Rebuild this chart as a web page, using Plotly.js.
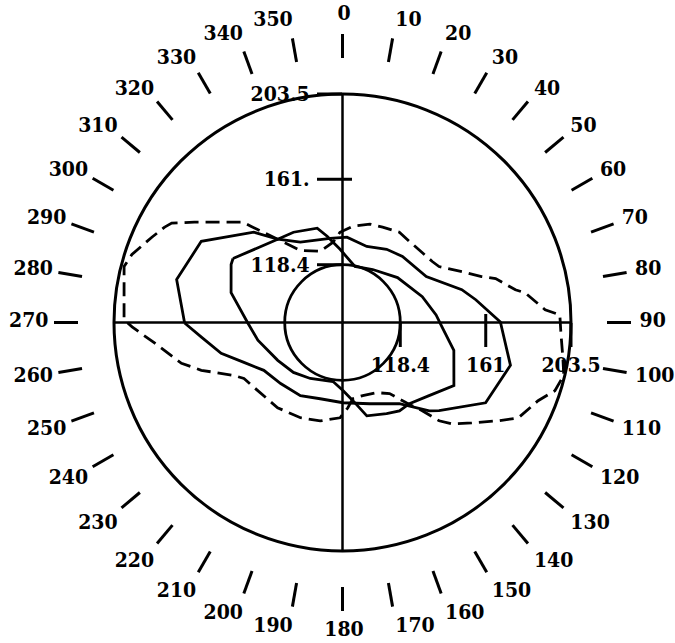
<!DOCTYPE html>
<html>
<head>
<meta charset="utf-8">
<script src="https://cdn.plot.ly/plotly-3.0.1.min.js"></script>
<style>
html,body{margin:0;padding:0;background:#fff;}
#chart{width:675px;height:643px;}
</style>
</head>
<body>
<div id="chart"></div>
<script>
// ---- data ----
const angularTicks = [0,10,20,30,40,50,60,70,80,90,100,110,120,130,140,150,160,170,
                      180,190,200,210,220,230,240,250,260,270,280,290,300,310,320,330,340,350];
const angularLabels = ['0','10','20','30','40','50','60','70','80','90','100','110','120','130','140','150','160','170',
                       '180','190','200','210','220','230','240','250','260','270','280','290','300','310','320','330','340','350'];
const radialTicks = [118.4, 161, 203.5];
const radialLabelsRight = ['118.4', '161', '203.5'];
const radialLabelsTop = ['118.4', '161.', '203.5'];
const innerCircleValue = [118.4];
const crossTicks = [161];
const radialRange = [89.6, 203.5];

const dashedTheta = [298.2,300.2,304.1,315.2,316.4,322.1,329.7,342.6,353.3,358.4,6.2,15.5,22.8,32.2,39.5,55.8,59.9,66.9,71.7,74.0,
  79.3,80.8,86.4,88.0,92.8,99.0,103.4,107.8,111.8,118.5,122.2,127.8,132.8,135.5,137.9,141.5,146.5,154.0,164.5,172.2,
  176.4,181.5,192.8,203.8,217.3,231.2,240.4,244.0,251.3,255.8,263.7,268.8,270.7,284.4,287.9,294.1];
const dashedR = [190.2,188.1,178.8,160.1,155.9,142.2,131.2,126.8,129.9,134.6,137.9,140.5,141.2,142.8,142.0,143.7,145.2,154.3,162.6,169.0,
  177.3,181.9,190.8,198.0,198.6,200.8,203.0,200.8,194.6,189.3,181.5,171.2,164.0,158.3,148.9,140.7,132.1,128.5,127.4,127.9,
  132.2,137.1,139.9,141.5,143.0,143.8,146.1,149.8,163.9,172.4,183.7,194.5,198.5,202.0,199.9,193.7];

const outerSolidTheta = [269.8,284.5,299.9,315.5,322.1,332.3,351.6,3.0,17.7,31.1,42.2,61.3,74.6,80.3,89.8,104.3,119.3,132.4,135.5,145.0,
  161.5,179.6,196.3,209.9,225.4,238.7,248.0,255.8,264.1];
const outerSolidR = [168.3,175.0,170.8,152.7,142.2,134.8,132.0,132.2,129.4,132.2,134.1,137.2,151.3,157.0,168.3,176.0,171.4,154.8,151.3,139.0,
  132.3,129.6,129.2,131.7,132.9,135.5,142.6,152.0,160.3];

const innerSolidTheta = [300.3,322.1,331.5,345.0,349.9,358.1,12.5,29.7,50.8,72.1,85.4,92.6,104.0,119.5,130.2,140.5,147.2,154.2,165.4,172.4,
  179.6,189.1,209.9,224.5,239.7,258.2,269.7,285.0,297.5];
const innerSolidR = [152.8,142.2,140.8,138.3,133.3,126.1,118.2,120.0,125.0,131.4,136.4,139.3,146.8,153.4,146.1,142.0,142.0,140.1,137.7,128.9,
  123.5,119.4,121.8,124.5,127.0,132.7,136.8,147.1,152.2];

// ---- layout geometry ----
const W = 675, H = 643, CX = 342.5, CY = 322.5;
const R_PLOT = 228.5, R_TICK = 264, R_LABEL = 295;
const LABEL_CX = 344, LABEL_CY = 319.5;
function dom(R, cx, cy) {
  cx = (cx === undefined) ? CX : cx;
  cy = (cy === undefined) ? CY : cy;
  return {x: [(cx - R) / W, (cx + R) / W], y: [(H - cy - R) / H, (H - cy + R) / H]};
}
const FONT = {family: '"DejaVu Serif Condensed", "DejaVu Serif", serif', size: 21, color: '#000', weight: 'bold'};
const BLACK = '#000';
const closed = a => a.concat([a[0]]);

function contour(theta, r, dash) {
  return {type: 'scatterpolar', mode: 'lines', subplot: 'polar',
    theta: closed(theta), r: closed(r), hoverinfo: 'skip', showlegend: false,
    line: {color: BLACK, width: 2.8, dash: dash}};
}
function empty(sub) {
  return {type: 'scatterpolar', mode: 'lines', subplot: sub, r: [], theta: [], hoverinfo: 'skip', showlegend: false};
}

const data = [
  contour(dashedTheta, dashedR, '14px,7px'),
  contour(outerSolidTheta, outerSolidR, 'solid'),
  contour(innerSolidTheta, innerSolidR, 'solid'),
  empty('polar2'), empty('polar3'), empty('polar4'), empty('polar5'), empty('polar6'), empty('polar7')
];

const angBase = {rotation: 90, direction: 'clockwise', tickmode: 'array'};
const hiddenAng = Object.assign({}, angBase, {visible: false});
const hiddenRad = {visible: false, range: radialRange};

const layout = {
  width: W, height: H,
  margin: {l: 0, r: 0, t: 0, b: 0},
  paper_bgcolor: '#fff',
  showlegend: false,
  // main plot: outer circle, crosshair, right-hand radial axis
  polar: {
    domain: dom(R_PLOT), bgcolor: 'rgba(0,0,0,0)',
    angularaxis: Object.assign({}, angBase, {
      tickvals: [0, 90, 180, 270], ticks: '', showticklabels: false,
      showline: true, linecolor: BLACK, linewidth: 3,
      showgrid: true, gridcolor: BLACK, gridwidth: 2.5
    }),
    radialaxis: {
      range: radialRange, angle: 0, side: 'clockwise',
      tickmode: 'array', tickvals: radialTicks, ticktext: radialLabelsRight,
      ticks: 'outside', ticklen: 24, tickwidth: 3, tickcolor: BLACK,
      showline: false, showgrid: false, tickfont: FONT
    }
  },
  // upward radial axis with labels on the left
  polar2: {
    domain: dom(R_PLOT), bgcolor: 'rgba(0,0,0,0)',
    angularaxis: hiddenAng,
    radialaxis: {
      range: radialRange, angle: 90, side: 'counterclockwise', tickangle: 90,
      tickmode: 'array', tickvals: radialTicks, ticktext: radialLabelsTop,
      ticks: 'outside', ticklen: 25, tickwidth: 3, tickcolor: BLACK,
      showline: false, showgrid: false, tickfont: FONT
    }
  },
  // inner reference circle
  polar3: {
    domain: dom(R_PLOT), bgcolor: 'rgba(0,0,0,0)',
    angularaxis: hiddenAng,
    radialaxis: {
      range: radialRange, angle: 0, tickmode: 'array', tickvals: innerCircleValue,
      ticks: '', showticklabels: false, showline: false,
      showgrid: true, gridcolor: BLACK, gridwidth: 2.8
    }
  },
  // angular tick marks (detached from the circle)
  polar4: {
    domain: dom(R_TICK), bgcolor: 'rgba(0,0,0,0)',
    angularaxis: Object.assign({}, angBase, {
      tickvals: angularTicks, ticks: 'outside', ticklen: 24, tickwidth: 3, tickcolor: BLACK,
      showticklabels: false, showline: false, showgrid: false
    }),
    radialaxis: hiddenRad
  },
  // angular tick labels
  polar5: {
    domain: dom(R_LABEL, LABEL_CX, LABEL_CY), bgcolor: 'rgba(0,0,0,0)',
    angularaxis: Object.assign({}, angBase, {
      tickvals: angularTicks, ticktext: angularLabels, ticks: '',
      showticklabels: true, tickfont: FONT, showline: false, showgrid: false
    }),
    radialaxis: hiddenRad
  },
  // short crossing parts of the 161 ticks
  polar6: {
    domain: dom(R_PLOT), bgcolor: 'rgba(0,0,0,0)',
    angularaxis: hiddenAng,
    radialaxis: {
      range: radialRange, angle: 0, side: 'clockwise', tickmode: 'array', tickvals: crossTicks,
      ticks: 'inside', ticklen: 8, tickwidth: 3, tickcolor: BLACK,
      showticklabels: false, showline: false, showgrid: false
    }
  },
  polar7: {
    domain: dom(R_PLOT), bgcolor: 'rgba(0,0,0,0)',
    angularaxis: hiddenAng,
    radialaxis: {
      range: radialRange, angle: 90, side: 'counterclockwise', tickmode: 'array', tickvals: crossTicks,
      ticks: 'inside', ticklen: 9, tickwidth: 3, tickcolor: BLACK,
      showticklabels: false, showline: false, showgrid: false
    }
  }
};

Plotly.newPlot('chart', data, layout, {staticPlot: true, displayModeBar: false});
</script>
</body>
</html>
